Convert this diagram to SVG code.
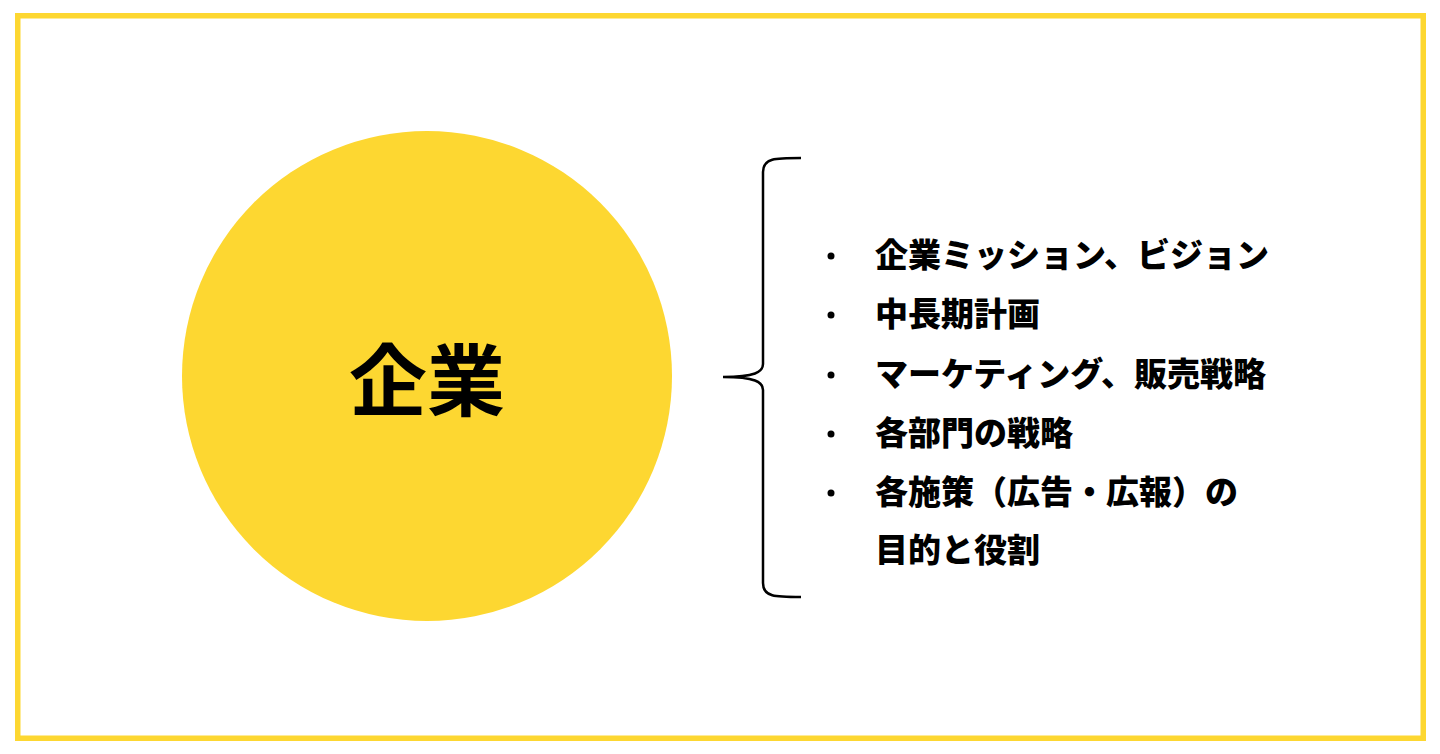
<svg xmlns="http://www.w3.org/2000/svg" width="1440" height="754" viewBox="0 0 1440 754">
  <style>
    .item { font-family: "Noto Sans CJK JP", "Noto Sans", sans-serif; font-weight: 900; font-size: 33px; fill: #000; dominant-baseline: central; }
    .title { font-family: "Noto Sans CJK JP", "Noto Sans", sans-serif; font-weight: 700; font-size: 78px; fill: #000; dominant-baseline: central; text-anchor: middle; }
    .bullet { fill: #000; }
  </style>
  <rect x="0" y="0" width="1440" height="754" fill="#fff"/>
  <rect id="frame" x="17.75" y="15.75" width="1405.5" height="722.5" fill="none" stroke="#FDD731" stroke-width="5.5"/>
  <g id="node-company">
    <circle cx="427" cy="376" r="245" fill="#FDD731"/>
    <text class="title" x="427" y="376">企業</text>
  </g>
  <g id="connectors">
    <path d="M801,158 C775,158 763,158 763,172 L763,364 C763,372 755,377 723,377 C755,377 763,382 763,390 L763,583 C763,597 775,597 801,597" fill="none" stroke="#000" stroke-width="2.5"/>
  </g>
  <g id="node-list">
    <circle class="bullet" cx="831" cy="256" r="3.5"/>
    <text class="item" x="875" y="253">企業ミッション、ビジョン</text>
    <circle class="bullet" cx="831" cy="315" r="3.5"/>
    <text class="item" x="875" y="312">中長期計画</text>
    <circle class="bullet" cx="831" cy="375" r="3.5"/>
    <text class="item" x="875" y="372">マーケティング、販売戦略</text>
    <circle class="bullet" cx="831" cy="434" r="3.5"/>
    <text class="item" x="875" y="431">各部門の戦略</text>
    <circle class="bullet" cx="831" cy="493" r="3.5"/>
    <text class="item" x="875" y="490">各施策（広告・広報）の</text>
    <text class="item" x="875" y="548">目的と役割</text>
  </g>
</svg>
